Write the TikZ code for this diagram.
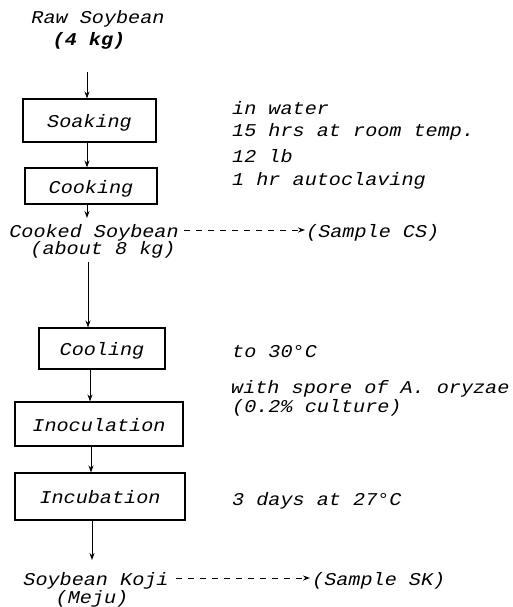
\documentclass[tikz,border=0pt]{standalone}
\usepackage{fontspec}
\setmonofont{Liberation Mono}[FakeStretch=1.12]
\usetikzlibrary{arrows.meta}
\begin{document}
\begin{tikzpicture}[x=1pt,y=-1pt,
  txt/.style={font=\fontsize{18}{20}\selectfont\ttfamily\itshape, inner sep=0pt, text height=16pt, text depth=2pt},
  stepbox/.style={draw, line width=1.1pt, txt},
  arr/.style={line width=1pt, -{Stealth[length=7pt,width=5pt]}},
  darr/.style={line width=1pt, dash pattern=on 6pt off 6pt, -{Stealth[length=7pt,width=5pt]}}]
\useasboundingbox (0,0) rectangle (512,607);
% left column texts
\node[txt] (raw) at (98,17) {Raw Soybean};
\node[txt, font=\fontsize{18}{20}\selectfont\ttfamily\bfseries\itshape] (kg) at (89,39) {(4 kg)};
\node[stepbox, minimum width=133pt, minimum height=43pt] (soak) at (89.5,120.5) {Soaking};
\node[stepbox, minimum width=132pt, minimum height=36pt] (cook) at (91,186) {Cooking};
\node[txt] (cooked) at (94,230) {Cooked Soybean};
\node[txt] (about) at (103,247) {(about 8 kg)};
\node[txt, anchor=west] (cs) at (306,230) {(Sample CS)};
\node[stepbox, minimum width=126pt, minimum height=41pt] (cool) at (102,348.5) {Cooling};
\node[stepbox, minimum width=168pt, minimum height=44pt] (inoc) at (99,424) {Inoculation};
\node[stepbox, minimum width=170pt, minimum height=47pt] (incu) at (100,496.5) {Incubation};
\node[txt] (koji) at (96,578) {Soybean Koji};
\node[txt] (meju) at (92,596) {(Meju)};
\node[txt, anchor=west] (sk) at (312,578) {(Sample SK)};
% right column notes
\node[txt, anchor=west] (n1) at (232,107) {in water};
\node[txt, anchor=west] (n2) at (232,129) {15 hrs at room temp.};
\node[txt, anchor=west] (n3) at (232,155) {12 lb};
\node[txt, anchor=west] (n4) at (232,178) {1 hr autoclaving};
\node[txt, anchor=west] (n5) at (232,350) {to 30°C};
\node[txt, anchor=west] (n6) at (231,386) {with spore of A. oryzae};
\node[txt, anchor=west] (n7) at (232,405) {(0.2\% culture)};
\node[txt, anchor=west] (n8) at (232,498) {3 days at 27°C};
% connectors
\coordinate (c1) at (87,72);
\coordinate (c2) at (87,0);
\coordinate (c3) at (87,218);
\coordinate (c4) at (88,262);
\coordinate (c5) at (90,0);
\coordinate (c6) at (91,0);
\coordinate (c7) at (92,0);
\coordinate (c8) at (92,560);
\draw[arr] (c1) -- (c1 |- soak.north);
\draw[arr] (soak.south -| c2) -- (cook.north -| c2);
\draw[arr] (cook.south -| c2) -- (c3);
\draw[arr] (c4) -- (c4 |- cool.north);
\draw[arr] (cool.south -| c5) -- (inoc.north -| c5);
\draw[arr] (inoc.south -| c6) -- (incu.north -| c6);
\draw[arr] (incu.south -| c7) -- (c8);
\draw[darr] ([xshift=5pt]cooked.east) -- ([xshift=-1pt]cs.west);
\draw[darr] ([xshift=7pt]koji.east) -- ([xshift=-2pt]sk.west);
\end{tikzpicture}
\end{document}
